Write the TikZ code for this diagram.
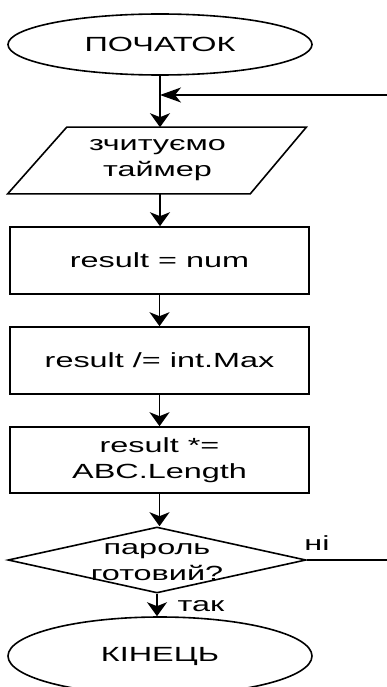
\documentclass[tikz,border=0pt]{standalone}
\usepackage{fontspec}
\setmainfont{Liberation Sans}[FakeStretch=1.58]
\usetikzlibrary{shapes.geometric,arrows.meta}
\begin{document}
\begin{tikzpicture}[x=1pt,y=-1pt,line width=1.6pt,
  txt/.style={font=\fontsize{20.5}{26}\selectfont,align=center,inner sep=0},
  term/.style={ellipse,draw,minimum width=304,inner sep=0,txt},
  box/.style={rectangle,draw,minimum width=299,minimum height=67,txt},
  arr/.style={-{Stealth[length=14pt,width=20pt,inset=4pt]}},
  harr/.style={-{Stealth[length=21pt,width=15pt,inset=6pt]}}]
\useasboundingbox (0,0) rectangle (386,687);
\node[term,minimum height=61] (start) at (160,44.5) {ПОЧАТОК};
\node[txt,minimum width=240,minimum height=65] (read) at (157.5,160.5) {зчитуємо\\таймер};
\draw[line join=miter] ([xshift=-29]read.south west) -- ([xshift=30]read.north west) -- ([xshift=28]read.north east) -- ([xshift=-28]read.south east) -- cycle;
\node[box] (b1) at (159.5,260.5) {result = num};
\node[box] (b2) at (159.5,360.5) {result /= int.Max};
\node[box,minimum height=66] (b3) at (159.5,460) {result *=\\ABC.Length};
\node[diamond,draw,minimum width=298,minimum height=66,inner sep=0] (dec) at (157,560) {};
\node[txt] (dectext) at (157,562) {пароль\\готовий?};
\node[term,minimum height=78] (end) at (160,656) {КІНЕЦЬ};
\node[txt] (no) at (317,543) {ні};
\node[txt] (yes) at (201,606) {так};
\coordinate (fb) at (395,95);
\draw[arr] (start.south) -- (start.south |- read.north);
\draw[arr] (start.south |- read.south) -- (start.south |- b1.north);
\draw[arr] (b1.south) -- (b2.north);
\draw[arr] (b2.south) -- (b3.north);
\draw[arr] (b3.south) -- (b3.south |- dec.north);
\draw[arr] (dec.south) -- (dec.south |- end.north);
\draw[harr] (dec.east) -- (dec.east -| fb) -- (fb) -- (fb -| start.south);
\end{tikzpicture}
\end{document}
